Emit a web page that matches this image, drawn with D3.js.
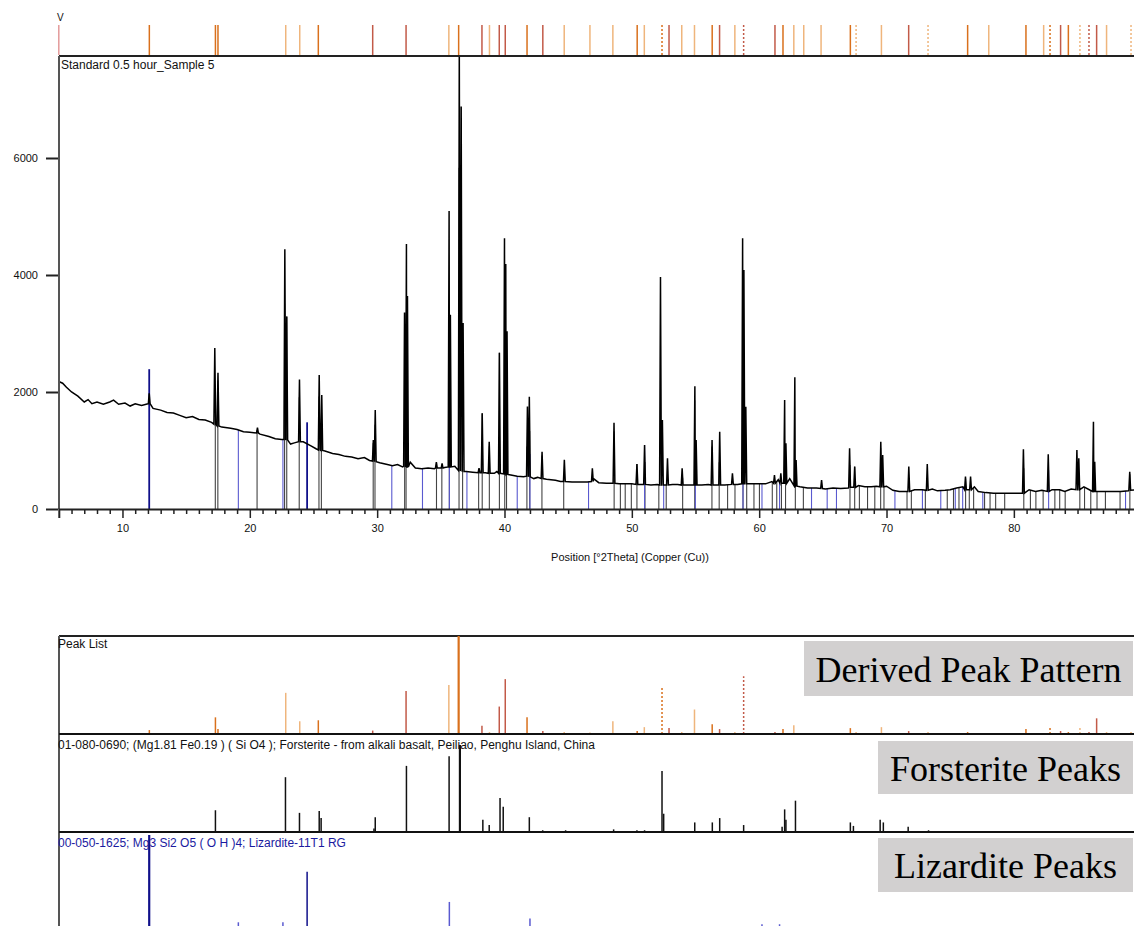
<!DOCTYPE html>
<html>
<head>
<meta charset="utf-8">
<script src="https://cdn.jsdelivr.net/npm/d3@7"></script>
<style>
  body { margin: 0; background: #fff; }
  svg { display: block; }
  .lbl { font-family: "Liberation Sans", Arial, sans-serif; font-size: 12px; fill: #111; }
  .axis text { font-family: "Liberation Sans", Arial, sans-serif; font-size: 11px; fill: #111; }
  .box text { font-family: "Liberation Serif", "Times New Roman", serif; font-size: 36px; fill: #000; }
</style>
</head>
<body>
<div id="chart"></div>
<script>
var background = [
  [5.0,2180],[5.3,2150],[5.6,2080],[6.0,2000],[6.5,1930],[7.0,1830],[7.3,1870],[7.6,1800],
  [8.0,1830],[8.5,1790],[9.0,1830],[9.3,1860],[9.7,1790],[10.2,1810],[10.6,1760],[11.0,1800],
  [11.5,1770],[12.0,1800],[12.4,1720],[13.0,1690],[13.5,1650],[14.0,1640],[14.5,1600],[15.0,1560],
  [15.5,1580],[16.0,1530],[16.5,1520],[17.0,1480],[17.8,1400],[18.5,1380],[19.0,1360],[19.5,1320],
  [20.0,1310],[20.8,1280],[21.5,1240],[22.0,1200],[22.5,1190],[23.2,1110],[23.5,1130],[24.2,1150],
  [24.8,1080],[25.2,1030],[25.9,990],[26.5,950],[27.0,930],[27.5,900],[28.0,890],[28.5,860],
  [29.0,880],[29.4,830],[30.2,790],[30.8,760],[31.2,740],[31.6,760],[32.0,720],[32.6,800],
  [33.0,700],[33.5,690],[34.0,700],[34.5,690],[35.3,710],[36.1,730],[37.0,640],[37.5,630],
  [38.5,620],[39.2,610],[39.4,640],[40.5,580],[41.0,560],[41.5,550],[42.3,520],[42.6,540],
  [43.3,510],[44.0,490],[44.4,470],[45.3,460],[45.8,460],[46.5,460],[47.0,520],[47.4,450],
  [48.0,440],[48.3,440],[49.0,430],[49.5,430],[50.0,430],[50.7,420],[51.5,410],[52.0,420],
  [53.2,420],[53.6,420],[54.4,410],[55.5,410],[56.0,420],[56.6,410],[57.3,410],[58.3,420],
  [59.3,430],[60.0,430],[60.5,430],[61.0,470],[61.5,500],[62.4,520],[63.2,380],[63.8,360],
  [64.5,360],[65.2,340],[65.8,360],[66.4,350],[67.0,360],[67.8,400],[68.3,380],[68.8,380],
  [69.2,390],[70.0,390],[70.5,320],[71.0,300],[71.4,300],[72.2,330],[72.8,330],[73.6,340],
  [74.0,310],[74.6,320],[75.0,330],[75.5,360],[76.0,380],[76.9,380],[77.2,300],[77.8,280],
  [78.4,270],[79.0,270],[79.6,270],[80.3,270],[81.2,330],[81.7,300],[82.2,320],[83.0,330],
  [83.6,330],[84.0,300],[84.5,340],[85.5,380],[86.0,320],[86.8,300],[87.3,300],[87.8,300],
  [88.4,300],[89.0,310],[89.6,330]
];

// scan peaks [2theta, base counts, top counts]
var scanPeaks = [
  [12.1,1800,1977],[17.25,1450,2750],[17.5,1420,2330],[20.6,1300,1390],[22.75,1190,4440],
  [22.9,1180,3290],[23.9,1150,2215],[25.45,1010,2290],[25.65,1000,1950],[29.7,820,1180],
  [29.85,810,1690],[32.15,730,3360],[32.3,720,4530],[32.38,720,3640],[34.65,700,800],
  [35.1,700,780],[35.65,720,5095],[35.75,720,3320],[36.45,660,7900],[36.6,650,6880],
  [36.75,640,3180],[38.0,620,700],[38.25,620,1635],[38.8,610,1150],[39.6,610,2670],
  [40.0,600,4630],[40.1,600,4190],[40.2,590,3040],[41.8,560,1750],[41.95,550,1920],
  [42.95,520,980],[44.7,470,840],[46.9,470,695],[48.6,440,1476],[50.4,420,770],
  [51.0,420,1094],[52.25,410,3966],[52.4,410,1520],[52.8,410,866],[53.95,410,695],
  [54.95,410,2100],[55.05,410,1180],[56.3,410,1180],[56.9,410,1322],[57.9,420,610],
  [58.7,430,4627],[58.8,430,4085],[58.95,430,1749],[61.2,440,581],[61.7,440,610],
  [62.0,440,1863],[62.1,440,1123],[62.8,400,2251],[62.9,390,837],[64.9,350,496],
  [67.1,370,1037],[67.5,370,724],[69.55,380,1151],[69.7,380,923],[71.75,300,724],
  [73.2,320,769],[76.2,330,553],[76.6,330,553],[80.75,270,1020],[82.7,300,935],
  [84.95,330,1009],[85.1,330,866],[86.25,300,1493],[86.35,300,809],[89.1,320,638]
];

// drop lines under the scan (2theta)
var scanSticks = [
  17.29,17.49,20.57,22.73,22.9,23.88,25.43,25.62,29.69,29.83,32.16,32.27,34.66,35.08,35.67,
  36.43,36.71,37.97,38.25,38.81,39.6,40.02,40.16,41.76,41.98,42.94,44.65,48.61,49.1,49.48,
  49.96,50.4,51.03,52.12,52.7,53.99,54.94,56.29,56.86,57.52,58.1,58.73,59.02,59.59,60.02,
  61.03,61.38,61.75,62.07,62.84,63.47,67.13,67.5,67.87,68.51,69.08,69.54,69.8,71.61,71.95,
  73.05,74.77,75.26,75.69,76.21,76.5,76.84,77.7,78.13,78.57,79.28,80.78,81.3,81.73,82.3,
  83.22,83.6,84.03,85.18,85.55,86.04,86.53,87.19,88.34,89.11
];

// derived peak list [2theta, relative %, class]  L light, O orange, R red, d = dotted
var peakList = [
  [12.11,4,"O"],[17.3,17,"O"],[17.5,5,"O"],[22.82,42,"L"],[23.92,13,"L"],[25.38,14,"O"],
  [29.65,3.5,"R"],[32.27,44,"R"],[35.63,50,"L"],[36.4,100,"O"],[38.23,8.5,"R"],[38.82,2,"L"],
  [39.59,28,"R"],[40.06,56,"R"],[41.77,17,"O"],[43.01,3,"R"],[44.69,2,"L"],[46.71,1.5,"L"],
  [48.51,13,"L"],[50.42,3,"O"],[50.98,7,"L"],[52.37,47,"Od"],[52.92,6,"R"],[53.92,2,"L"],
  [54.92,25,"L"],[56.31,10,"O"],[56.89,5,"R"],[58.09,2,"L"],[58.78,59,"Rd"],[61.24,2,"R"],
  [61.87,5,"O"],[62.72,9,"L"],[63.5,1,"L"],[64.86,1,"L"],[67.16,6,"O"],[67.61,3,"Ld"],
  [69.6,7,"L"],[71.74,3,"R"],[73.26,3,"Ld"],[76.37,2,"O"],[78.03,1,"L"],[80.95,5,"O"],
  [82.34,1,"L"],[82.84,8,"Od"],[83.67,3,"R"],[84.28,2,"O"],[85.19,8,"Ld"],[85.9,3,"Rd"],
  [86.5,16,"R"],[87.28,2,"L"],[89.2,3,"Ld"]
];

// Forsterite reference sticks [2theta, relative %]
var forsterite = [
  [17.3,25],[22.8,63],[23.9,22],[25.45,24],[25.6,16],[29.75,4],[29.85,17],[32.3,76],
  [35.65,87],[36.5,100],[38.3,14],[38.8,8],[39.65,39],[39.9,29],[41.95,17],[43.0,2],
  [44.8,2],[48.57,3],[50.4,2],[51.0,2],[52.37,70],[52.5,21],[54.94,11],[56.32,11],[56.9,16],
  [58.78,8],[61.8,6],[62.0,26],[62.1,14],[62.85,36],[67.16,11],[67.4,7],[69.5,14],[69.75,11],
  [71.7,6],[73.3,2],[76.3,1],[79.5,1],[80.9,1],[82.4,1],[83.6,1],[85.1,1],[86.3,1],[89.2,1]
];

// Lizardite reference sticks [2theta, relative %]
var lizardite = [
  [12.1,100],[19.1,10],[22.6,10],[24.5,62],[31.15,5],[33.56,5],[35.67,31],[37.05,5],[41.0,5],
  [42.0,14],[46.6,4],[51.0,5],[52.5,6],[54.99,4],[58.73,4],[60.22,8],[61.6,8],[64.11,3],
  [65.34,3],[66.07,3],[70.66,4],[72.82,4],[74.26,3],[75.4,3],[75.98,3],[77.56,3],[82.73,3],[88.77,3]
];

var xMajor = [10, 20, 30, 40, 50, 60, 70, 80];
var yMajor = [0, 2000, 4000, 6000];
var lizTop = 2390;   // counts reached by the strongest lizardite line in the scan

var W = 1134, H = 926;
var svg = d3.select("#chart").append("svg").attr("width", W).attr("height", H);

var x = d3.scaleLinear().domain([5, 90]).range([58.8, 1141.2]);
var y = d3.scaleLinear().domain([0, 6000]).range([509, 158]);

svg.append("clipPath").attr("id", "plotClip")
  .append("rect").attr("x", 59).attr("y", 57).attr("width", W - 59).attr("height", 452);

// merge background and peak spikes into one ordered profile
var profile = background.map(function(d){ return [d[0], d[1]]; });
scanPeaks.forEach(function(p){
  profile.push([p[0] - 0.07, p[1]]);
  profile.push([p[0], p[2]]);
  profile.push([p[0] + 0.07, p[1]]);
});
profile.sort(function(a, b){ return a[0] - b[0]; });

var bis = d3.bisector(function(d){ return d[0]; }).left;
function curveAt(t){
  var i = bis(profile, t);
  if (i <= 0) return profile[0][1];
  if (i >= profile.length) return profile[profile.length - 1][1];
  var a = profile[i - 1], b = profile[i];
  if (b[0] === t) return b[1];
  return a[1] + (b[1] - a[1]) * (t - a[0]) / (b[0] - a[0]);
}

// ---------- top strip of peak positions ----------
var peakColor = d3.scaleOrdinal().domain(["L", "O", "R"]).range(["#efb57c", "#d9701c", "#c25a48"]);

svg.append("text").attr("class", "lbl").attr("x", 57).attr("y", 21).style("font-size", "10px").text("V");
svg.append("line").attr("x1", x(5)).attr("x2", x(5)).attr("y1", 25).attr("y2", 55)
  .attr("stroke", "#e39a9a").attr("stroke-width", 1.5);

svg.append("g").selectAll("line").data(peakList).enter().append("line")
  .attr("x1", function(d){ return x(d[0]); })
  .attr("x2", function(d){ return x(d[0]); })
  .attr("y1", 25).attr("y2", 55)
  .attr("stroke", function(d){ return peakColor(d[2][0]); })
  .attr("stroke-width", 1.5)
  .attr("stroke-dasharray", function(d){ return d[2].length > 1 ? "2,2" : null; });

// ---------- main scan panel ----------
var gMain = svg.append("g").attr("clip-path", "url(#plotClip)");

gMain.selectAll(".stick").data(scanSticks).enter().append("line")
  .attr("class", "stick")
  .attr("x1", function(d){ return x(d); })
  .attr("x2", function(d){ return x(d); })
  .attr("y1", y(0))
  .attr("y2", function(d){ return y(curveAt(d)); })
  .attr("stroke", "#444").attr("stroke-width", 1.1);

gMain.selectAll(".lstick").data(lizardite).enter().append("line")
  .attr("class", "lstick")
  .attr("x1", function(d){ return x(d[0]); })
  .attr("x2", function(d){ return x(d[0]); })
  .attr("y1", y(0))
  .attr("y2", function(d){ return y(Math.max(curveAt(d[0]), d[1] / 100 * lizTop)); })
  .attr("stroke", function(d){ return d[1] > 50 ? "#10108a" : "#5a5ad0"; })
  .attr("stroke-width", function(d){ return d[1] > 50 ? 1.8 : 1.1; });

var line = d3.line().x(function(d){ return x(d[0]); }).y(function(d){ return y(d[1]); });
gMain.append("path").datum(profile)
  .attr("d", line)
  .attr("fill", "none").attr("stroke", "#000").attr("stroke-width", 1.5);

// frame
svg.append("line").attr("x1", 59).attr("x2", W).attr("y1", 56).attr("y2", 56)
  .attr("stroke", "#222").attr("stroke-width", 2);
svg.append("line").attr("x1", 59).attr("x2", 59).attr("y1", 56).attr("y2", 509)
  .attr("stroke", "#555").attr("stroke-width", 2);

// axes
var gx = svg.append("g").attr("class", "axis").attr("transform", "translate(0,509)")
  .call(d3.axisBottom(x).tickValues(xMajor).tickSize(9).tickPadding(6).tickFormat(d3.format("d")));
gx.select(".domain").attr("stroke", "#222").attr("stroke-width", 2);
gx.selectAll(".tick line").attr("stroke", "#222").attr("stroke-width", 1.5);

var gxm = svg.append("g").attr("transform", "translate(0,509)")
  .call(d3.axisBottom(x).tickValues(d3.range(6, 90).filter(function(v){ return v % 10 !== 0; }))
    .tickSize(5).tickFormat(""));
gxm.select(".domain").remove();
gxm.selectAll(".tick line").attr("stroke", "#222").attr("stroke-width", 1.5);

var gy = svg.append("g").attr("class", "axis").attr("transform", "translate(58,0)")
  .call(d3.axisLeft(y).tickValues(yMajor).tickSize(12).tickPadding(8).tickFormat(d3.format("d")));
gy.select(".domain").remove();
gy.selectAll(".tick line").attr("stroke", "#222").attr("stroke-width", 2);

svg.append("text").attr("class", "lbl").attr("x", 61).attr("y", 69).text("Standard 0.5 hour_Sample 5");
svg.append("text").attr("class", "lbl").attr("x", 630).attr("y", 561).attr("text-anchor", "middle")
  .style("font-size", "11px").text("Position [°2Theta] (Copper (Cu))");

// ---------- lower stick panels ----------
var panels = [
  { data: peakList, base: 734, full: 98, label: "Peak List", ly: 648, lcol: "#111" },
  { data: forsterite, base: 832, full: 87,
    label: "01-080-0690; (Mg1.81 Fe0.19 ) ( Si O4 ); Forsterite - from alkali basalt, Peiliao, Penghu Island, China",
    ly: 749, lcol: "#111" },
  { data: lizardite, base: 932, full: 97,
    label: "00-050-1625; Mg3 Si2 O5 ( O H )4; Lizardite-11T1 RG", ly: 847, lcol: "#1a1aa0" }
];

svg.append("clipPath").attr("id", "lowClip")
  .append("rect").attr("x", 59).attr("y", 634).attr("width", W - 59).attr("height", H - 634);

svg.append("line").attr("x1", 59).attr("x2", W).attr("y1", 636).attr("y2", 636)
  .attr("stroke", "#222").attr("stroke-width", 2);
svg.append("line").attr("x1", 59).attr("x2", 59).attr("y1", 636).attr("y2", H)
  .attr("stroke", "#555").attr("stroke-width", 2);

panels.forEach(function(p, k){
  var h = d3.scaleLinear().domain([0, 100]).range([0, p.full]);
  var g = svg.append("g").attr("clip-path", "url(#lowClip)");
  g.selectAll("line").data(p.data).enter().append("line")
    .attr("x1", function(d){ return x(d[0]); })
    .attr("x2", function(d){ return x(d[0]); })
    .attr("y1", p.base)
    .attr("y2", function(d){ return p.base - h(d[1]); })
    .attr("stroke", function(d){
      if (k === 0) return peakColor(d[2][0]);
      if (k === 1) return "#111";
      return d[1] > 50 ? "#10108a" : "#5a5ad0";
    })
    .attr("stroke-width", function(d){ return d[1] >= 99 ? 2.2 : 1.5; })
    .attr("stroke-dasharray", function(d){ return (k === 0 && d[2].length > 1) ? "2,2" : null; });
  if (k < 2) {
    svg.append("line").attr("x1", 59).attr("x2", W).attr("y1", p.base).attr("y2", p.base)
      .attr("stroke", "#111").attr("stroke-width", 2);
  }
  svg.append("text").attr("class", "lbl").attr("x", 58).attr("y", p.ly)
    .style("fill", p.lcol).text(p.label);
});

// gray caption boxes
var boxes = [
  { text: "Derived Peak Pattern", x: 804, y: 641, h: 55 },
  { text: "Forsterite Peaks", x: 878, y: 741, h: 53 },
  { text: "Lizardite Peaks", x: 878, y: 838, h: 54 }
];
var gb = svg.append("g").attr("class", "box");
boxes.forEach(function(b){
  gb.append("rect").attr("x", b.x).attr("y", b.y).attr("width", W - 1 - b.x).attr("height", b.h)
    .attr("fill", "#d2d0d0");
  gb.append("text").attr("x", b.x + (W - 1 - b.x) / 2).attr("y", b.y + b.h / 2 + 13)
    .attr("text-anchor", "middle").text(b.text);
});
</script>
</body>
</html>
